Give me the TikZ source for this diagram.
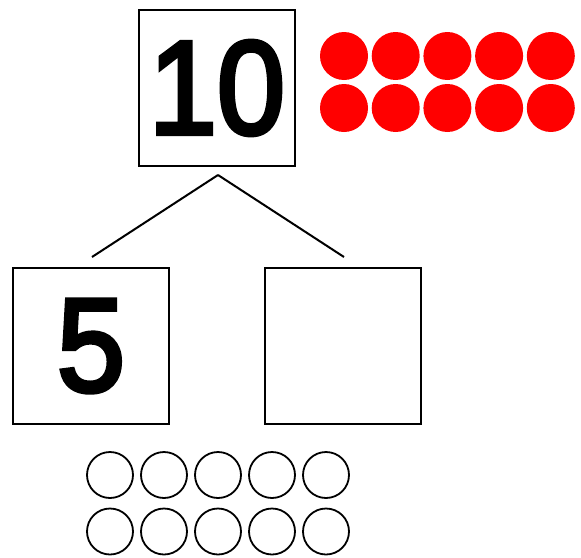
\documentclass[tikz,border=0pt]{standalone}
\usepackage{fontspec}
\setmainfont{Liberation Sans}
\newfontfamily\numfont{Liberation Sans}[FakeBold=3.5]
\usepackage{tikz}
\newcommand{\narrownum}[1]{\scalebox{0.92}[1]{#1}}
\tikzset{
    numbox/.style={
        draw,
        line width=2pt,
        minimum size=156pt,
        inner sep=0pt,
        font=\numfont\fontsize{133}{133}\selectfont
    },
    reddot/.style={
        circle,
        fill=red,
        minimum size=48pt,
        inner sep=0pt
    },
    emptydot/.style={
        circle,
        draw,
        line width=1.8pt,
        minimum size=46pt,
        inner sep=0pt
    },
    link/.style={line width=2pt}
}

\begin{document}
\begin{tikzpicture}[x=1pt, y=-1pt]

\useasboundingbox (0,0) rectangle (581,557);

% WHOLE
\node[numbox] (whole) at (217,88) {\narrownum{10}};

\foreach \i in {0,...,4} {
    \node[reddot] (red top \i) at (344+51.7*\i,56) {};
    \node[reddot] (red bot \i) at (344+51.7*\i,108) {};
}

% PARTS
\node[numbox] (partA) at (91,346) {\narrownum{5}};

\node[numbox] (partB) at (343,346) {};

\coordinate (split) at (218,175);
\coordinate (endA) at (92,257);
\coordinate (endB) at (344,257);

\draw[link] (split) -- (endA);
\draw[link] (split) -- (endB);

% COUNTERS
\foreach \i in {0,...,4} {
    \node[emptydot] (ring top \i) at (110+54*\i,475) {};
    \node[emptydot] (ring bot \i) at (110+54*\i,531.5) {};
}

\end{tikzpicture}
\end{document}
